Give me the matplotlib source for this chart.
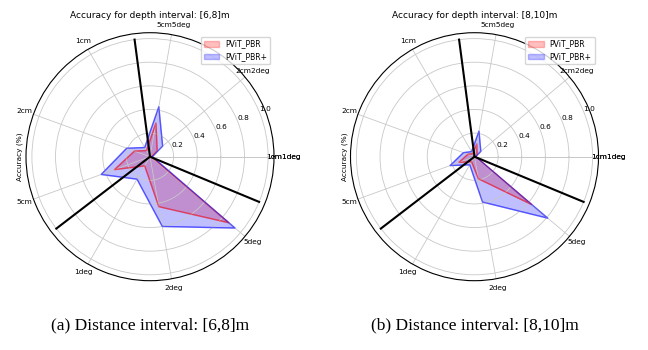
import numpy as np
import matplotlib
matplotlib.use('Agg')
import matplotlib.pyplot as plt

# ---- data ----
categories = ['1cm1deg', '2cm2deg', '5cm5deg', '1cm', '2cm', '5cm', '1deg', '2deg', '5deg']
series_labels = ['PViT_PBR', 'PViT_PBR+']

pbr_6_8 = [0.01, 0.08, 0.29, 0.06, 0.14, 0.32, 0.09, 0.43, 0.87]
pbrp_6_8 = [0.02, 0.14, 0.43, 0.09, 0.21, 0.44, 0.22, 0.60, 0.94]

pbr_8_10 = [0.01, 0.03, 0.11, 0.03, 0.06, 0.14, 0.05, 0.19, 0.63]
pbrp_8_10 = [0.01, 0.07, 0.22, 0.05, 0.10, 0.22, 0.08, 0.39, 0.81]

titles = ['Accuracy for depth interval: [6,8]m', 'Accuracy for depth interval: [8,10]m']
captions = ['(a) Distance interval: [6,8]m', '(b) Distance interval: [8,10]m']
r_ticks = [0.2, 0.4, 0.6, 0.8, 1.0]
separator_deg = [97.5, 217.5, 337.5]

panels = [(pbr_6_8, pbrp_6_8), (pbr_8_10, pbrp_8_10)]

# ---- figure ----
W, H = 648, 350
fig = plt.figure(figsize=(W / 100, H / 100), dpi=100)

centers = [(150, 156.7), (474.5, 156.7)]
R = 124

n = len(categories)
angles = np.linspace(0, 2 * np.pi, n, endpoint=False).tolist()
angles_closed = angles + angles[:1]
tick_angles = angles + [2 * np.pi]
tick_labels = categories + categories[:1]

for i, ((cx, cy), (a, b)) in enumerate(zip(centers, panels)):
    rect = [(cx - R) / W, (H - cy - R) / H, 2 * R / W, 2 * R / H]
    ax = fig.add_axes(rect, projection='polar')
    va = list(a) + a[:1]
    vb = list(b) + b[:1]
    ax.fill(angles_closed, va, color='red', alpha=0.25, label=series_labels[0])
    ax.plot(angles_closed, va, color='red', alpha=0.5, linewidth=1)
    ax.fill(angles_closed, vb, color='blue', alpha=0.25, label=series_labels[1])
    ax.plot(angles_closed, vb, color='blue', alpha=0.5, linewidth=1)
    for d in separator_deg:
        ax.plot([np.deg2rad(d), np.deg2rad(d)], [0, 1.0], color='black', linewidth=1.5)
    ax.set_xticks(tick_angles)
    ax.set_xticklabels(tick_labels, fontsize=5.3)
    ax.tick_params(axis='x', pad=-3.7)
    ax.set_yticks(r_ticks)
    ax.set_yticklabels([f'{t:.1f}' for t in r_ticks], fontsize=5.3)
    ax.set_ylim(0, 1.05)
    ax.grid(True, color='#c8c8c8', linewidth=0.6)
    ax.spines['polar'].set_linewidth(0.8)
    ax.set_ylabel('Accuracy (%)', fontsize=5.3, labelpad=2)
    ax.text(0.5, 1 + (cy - R - 15) / (2 * R), titles[i], transform=ax.transAxes,
            ha='center', va='center', fontsize=6.5)
    ax.legend(loc='upper right', fontsize=5.5)
    fig.text(cx / W, 1 - 325 / H, captions[i], ha='center', va='center',
             fontsize=12.5, family='Liberation Serif')

fig.savefig('out.png', dpi=100)
